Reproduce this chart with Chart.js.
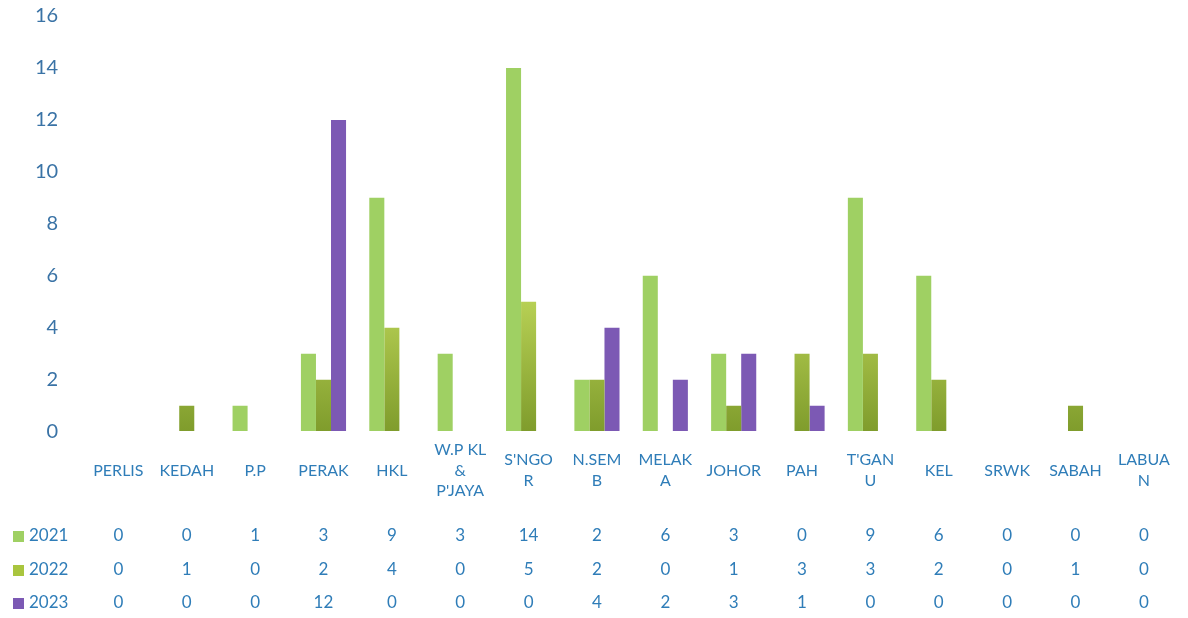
<!DOCTYPE html>
<html>
<head>
<meta charset="utf-8">
<script src="https://cdn.jsdelivr.net/npm/chart.js@4"></script>
<style>
  html, body { margin: 0; padding: 0; background: #fff; }
  #wrap { width: 1188px; height: 618px; }
</style>
</head>
<body>
<div id="wrap"><canvas id="graph"></canvas></div>
<script>
const categories = [
  'PERLIS', 'KEDAH', 'P.P', 'PERAK', 'HKL', ['W.P KL', '&', "P'JAYA"],
  ["S'NGO", 'R'], ['N.SEM', 'B'], ['MELAK', 'A'], 'JOHOR', 'PAH',
  ["T'GAN", 'U'], 'KEL', 'SRWK', 'SABAH', ['LABUA', 'N']
];
const seriesNames = ['2021', '2022', '2023'];
const values2021 = [0, 0, 1, 3, 9, 3, 14, 2, 6, 3, 0, 9, 6, 0, 0, 0];
const values2022 = [0, 1, 0, 2, 4, 0, 5, 2, 0, 1, 3, 3, 2, 0, 1, 0];
const values2023 = [0, 0, 0, 12, 0, 0, 0, 4, 2, 3, 1, 0, 0, 0, 0, 0];

const textBlue = '#2f7db8';
const fontFamily = 'Lato, "Open Sans", sans-serif';
const legendColors = ['#9fd063', '#a9c53e', '#7c59b4'];

function olive(ctx) {
  const chart = ctx.chart;
  const area = chart.chartArea;
  if (!area) return '#a9c53e';
  const y = chart.scales.y;
  const g = chart.ctx.createLinearGradient(0, area.bottom, 0, y.getPixelForValue(6));
  g.addColorStop(0, '#7f9c2c');
  g.addColorStop(1, '#c2da5c');
  return g;
}

// draws the data table under the axis labels
const dataTable = {
  id: 'dataTable',
  afterDraw(chart) {
    const ctx = chart.ctx;
    const x = chart.scales.x;
    const rows = [values2021, values2022, values2023];
    const rowY = [536, 570, 603];
    ctx.save();
    ctx.font = '17px ' + fontFamily;
    ctx.textBaseline = 'middle';
    rows.forEach((row, r) => {
      ctx.fillStyle = legendColors[r];
      ctx.fillRect(13, rowY[r] - 5, 11, 11);
      ctx.fillStyle = textBlue;
      ctx.textAlign = 'left';
      ctx.fillText(seriesNames[r], 29, rowY[r]);
      ctx.textAlign = 'center';
      row.forEach((v, i) => {
        ctx.fillText(String(v), x.getPixelForValue(i), rowY[r]);
      });
    });
    ctx.restore();
  }
};

new Chart(document.getElementById('graph'), {
  type: 'bar',
  data: {
    labels: categories,
    datasets: [
      { label: seriesNames[0], data: values2021, backgroundColor: '#9fd063' },
      { label: seriesNames[1], data: values2022, backgroundColor: olive },
      { label: seriesNames[2], data: values2023, backgroundColor: '#7c59b4' }
    ]
  },
  options: {
    responsive: true,
    maintainAspectRatio: false,
    animation: false,
    categoryPercentage: 0.66,
    barPercentage: 1.0,
    layout: { padding: { left: 31, right: 8, top: 0, bottom: 88 } },
    plugins: {
      legend: { display: false },
      tooltip: { enabled: false }
    },
    scales: {
      x: {
        grid: { display: false, drawTicks: false },
        border: { display: false },
        ticks: {
          color: textBlue,
          font: { family: fontFamily, size: 16, lineHeight: 1.3 },
          maxRotation: 0,
          autoSkip: false,
          padding: 18,
          crossAlign: 'center'
        }
      },
      y: {
        min: 0,
        max: 16,
        // invisible tick marks keep the labels away from the bars
        grid: { display: true, drawOnChartArea: false, color: 'transparent', drawTicks: true, tickLength: 22 },
        border: { display: false },
        ticks: {
          stepSize: 2,
          color: '#3a73a6',
          font: { family: fontFamily, size: 20 },
          padding: 4
        }
      }
    }
  },
  plugins: [dataTable]
});
</script>
</body>
</html>
